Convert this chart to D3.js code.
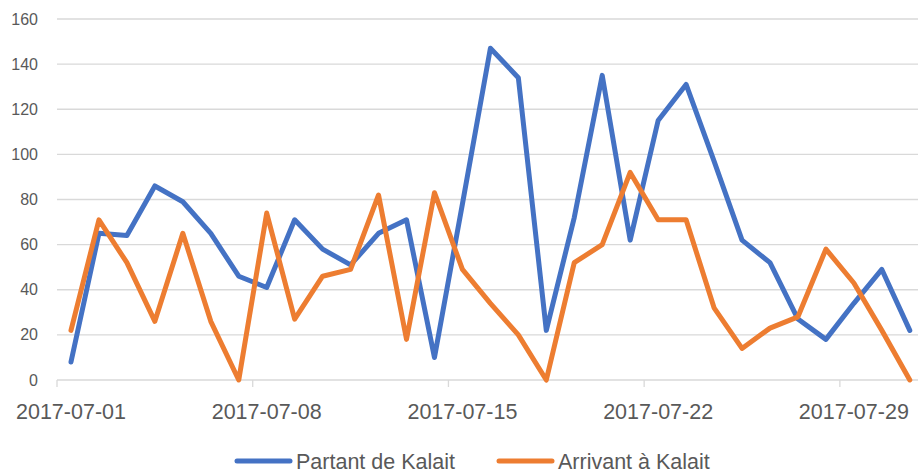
<!DOCTYPE html>
<html>
<head>
<meta charset="utf-8">
<script src="https://cdn.jsdelivr.net/npm/d3@7"></script>
<style>
  body { margin: 0; background: #fff; }
  svg { display: block; font-family: "Liberation Sans", Arial, sans-serif; }
</style>
</head>
<body>
<div id="chart"></div>
<script>
const days = [
  "2017-07-01", "2017-07-02", "2017-07-03", "2017-07-04", "2017-07-05", "2017-07-06", "2017-07-07",
  "2017-07-08", "2017-07-09", "2017-07-10", "2017-07-11", "2017-07-12", "2017-07-13", "2017-07-14",
  "2017-07-15", "2017-07-16", "2017-07-17", "2017-07-18", "2017-07-19", "2017-07-20", "2017-07-21",
  "2017-07-22", "2017-07-23", "2017-07-24", "2017-07-25", "2017-07-26", "2017-07-27", "2017-07-28",
  "2017-07-29", "2017-07-30", "2017-07-31"
];
const partant = [8, 65, 64, 86, 79, 65, 46, 41, 71, 58, 51, 65, 71, 10, 78, 147, 134, 22, 72, 135,
  62, 115, 131, 97, 62, 52, 27, 18, 34, 49, 22];
const arrivant = [22, 71, 52, 26, 65, 26, 0, 74, 27, 46, 49, 82, 18, 83, 49, 34, 20, 0, 52, 60,
  92, 71, 71, 32, 14, 23, 28, 58, 43, 22, 0];
const tickDays = ["2017-07-01", "2017-07-08", "2017-07-15", "2017-07-22", "2017-07-29"];
const yTicks = [0, 20, 40, 60, 80, 100, 120, 140, 160];

const series = [
  {name: "Partant de Kalait", values: partant, color: "#4472C4"},
  {name: "Arrivant à Kalait", values: arrivant, color: "#ED7D31"}
];

const width = 918, height = 473;
const plotLeft = 57, plotTop = 19, plotBottom = 380;
const dayW = 27.96;

const svg = d3.select("#chart").append("svg")
  .attr("width", width).attr("height", height);

const parse = d3.utcParse("%Y-%m-%d");
const x = d3.scaleUtc()
  .domain([parse(days[0]), d3.utcDay.offset(parse(days[days.length - 1]), 1)])
  .range([plotLeft, plotLeft + dayW * days.length]);
const y = d3.scaleLinear().domain([0, 160]).range([plotBottom, plotTop]);
const mid = s => d3.utcHour.offset(parse(s), 12);

// grid
svg.append("g").selectAll("line").data(yTicks).join("line")
  .attr("x1", plotLeft).attr("x2", width)
  .attr("y1", d => y(d)).attr("y2", d => y(d))
  .attr("stroke", "#d9d9d9").attr("stroke-width", 1.3);

// y labels
svg.append("g").selectAll("text").data(yTicks).join("text")
  .attr("x", 38).attr("y", d => y(d)).attr("dy", "0.35em")
  .attr("text-anchor", "end").attr("fill", "#595959")
  .attr("font-size", 16).text(d => d);

// x ticks
svg.append("g").selectAll("line").data(tickDays).join("line")
  .attr("x1", d => x(parse(d))).attr("x2", d => x(parse(d)))
  .attr("y1", plotBottom).attr("y2", plotBottom + 7)
  .attr("stroke", "#d9d9d9").attr("stroke-width", 1.3);

svg.append("g").selectAll("text").data(tickDays).join("text")
  .attr("x", d => x(mid(d))).attr("y", 419)
  .attr("text-anchor", "middle").attr("fill", "#595959")
  .attr("font-size", 21.5).text(d => d);

// lines
const line = d3.line()
  .x((d, i) => x(mid(days[i])))
  .y(d => y(d));

svg.append("g").selectAll("path").data(series).join("path")
  .attr("d", d => line(d.values))
  .attr("fill", "none")
  .attr("stroke", d => d.color)
  .attr("stroke-width", 5)
  .attr("stroke-linejoin", "round")
  .attr("stroke-linecap", "round");

// legend
const legX = [237, 499];
const lg = svg.append("g").selectAll("g").data(series).join("g")
  .attr("transform", (d, i) => `translate(${legX[i]},461)`);
lg.append("line")
  .attr("x1", 0).attr("x2", 53).attr("y1", 0).attr("y2", 0)
  .attr("stroke", d => d.color).attr("stroke-width", 5)
  .attr("stroke-linecap", "round");
lg.append("text")
  .attr("x", 59).attr("y", 8)
  .attr("fill", "#595959").attr("font-size", 21.5)
  .text(d => d.name);
</script>
</body>
</html>
